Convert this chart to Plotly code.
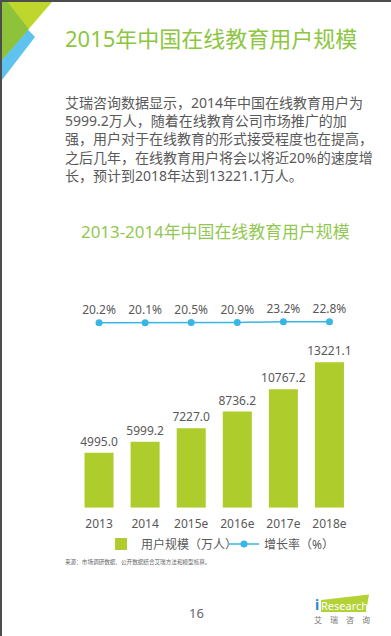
import plotly.graph_objects as go

W, H = 391, 636

# ---- data ----
categories = ["2013", "2014", "2015e", "2016e", "2017e", "2018e"]
users = [4995.0, 5999.2, 7227.0, 8736.2, 10767.2, 13221.1]
growth = [20.2, 20.1, 20.5, 20.9, 23.2, 22.8]

title_text = "2015年中国在线教育用户规模"
chart_title = "2013-2014年中国在线教育用户规模"
paragraph = [
    "艾瑞咨询数据显示，2014年中国在线教育用户为",
    "5999.2万人，随着在线教育公司市场推广的加",
    "强，用户对于在线教育的形式接受程度也在提高，",
    "之后几年，在线教育用户将会以将近20%的速度增",
    "长，预计到2018年达到13221.1万人。",
]
source_text = "来源：市场调研数据、公开数据结合艾瑞方法和模型核算。"
bar_name = "用户规模（万人）"
line_name = "增长率（%）"
page_no = "16"

FONT = "Noto Sans, Noto Sans CJK SC, sans-serif"
GRAY = "#595959"
BAR_COLOR = "#aecd2d"
LINE_COLOR = "#38b6e6"
TITLE_GREEN = "#8dc641"


def px(x):
    return x / W


def py(y):
    return 1 - y / H


def path(points):
    s = "M " + " L ".join(f"{px(x):.5f},{py(y):.5f}" for x, y in points) + " Z"
    return s


fig = go.Figure()

fig.add_trace(go.Bar(
    x=categories, y=users, name=bar_name,
    marker=dict(color=BAR_COLOR, line=dict(width=0)),
    text=[f"{v:.1f}" for v in users], textposition="outside",
    constraintext="none",
    textfont=dict(size=12, color=GRAY, family=FONT),
    cliponaxis=False, hoverinfo="skip",
))
fig.add_trace(go.Scatter(
    x=categories, y=growth, name=line_name, yaxis="y2",
    mode="lines+markers+text",
    line=dict(color=LINE_COLOR, width=1.5),
    marker=dict(color=LINE_COLOR, size=7),
    text=[f"{v:.1f}%" for v in growth], textposition="top center",
    textfont=dict(size=12, color=GRAY, family=FONT),
    cliponaxis=False, hoverinfo="skip",
))

shapes = []
# frame bars
shapes.append(dict(type="rect", xref="paper", yref="paper", x0=0, x1=1,
                   y0=py(2), y1=1, fillcolor="#4d4d4d", line=dict(width=0), layer="above"))
shapes.append(dict(type="rect", xref="paper", yref="paper", x0=0, x1=px(2),
                   y0=0, y1=1, fillcolor="#4d4d4d", line=dict(width=0), layer="above"))
# corner decoration
shapes.append(dict(type="path", xref="paper", yref="paper",
                   path=path([(2, 2), (35, 37), (2, 80)]),
                   fillcolor="#5ec3ef", line=dict(width=0)))
shapes.append(dict(type="path", xref="paper", yref="paper",
                   path=path([(2, 2), (52, 2), (2, 60)]),
                   fillcolor="#bfd62d", line=dict(width=0)))
shapes.append(dict(type="path", xref="paper", yref="paper",
                   path=path([(2, 2), (7.5, 2), (28.7, 29), (2, 60)]),
                   fillcolor="#8dc23a", line=dict(width=0)))
# logo
shapes.append(dict(type="path", xref="paper", yref="paper",
                   path=path([(321, 600), (369, 594.5), (366, 612), (321, 612)]),
                   fillcolor="#b3d235", line=dict(width=0)))

annotations = []
annotations.append(dict(text=title_text, x=px(63), y=py(38), xref="paper", yref="paper",
                        xanchor="left", yanchor="middle", showarrow=False,
                        font=dict(size=22, color=TITLE_GREEN, family=FONT)))
annotations.append(dict(text="<br>".join(paragraph), x=px(63), y=py(138.5),
                        xref="paper", yref="paper", align="left",
                        xanchor="left", yanchor="middle", showarrow=False,
                        font=dict(size=14, color=GRAY, family=FONT)))
annotations.append(dict(text=chart_title, x=px(215), y=py(232), xref="paper", yref="paper",
                        xanchor="center", yanchor="middle", showarrow=False,
                        font=dict(size=16.9, color="#92c852", family=FONT)))
annotations.append(dict(text=source_text, x=px(63), y=py(562), xref="paper", yref="paper",
                        xanchor="left", yanchor="middle", showarrow=False,
                        font=dict(size=5.6, color="#666666", family=FONT)))
annotations.append(dict(text=page_no, x=px(196), y=py(613), xref="paper", yref="paper",
                        xanchor="center", yanchor="middle", showarrow=False,
                        font=dict(size=13, color="#666666", family=FONT)))
annotations.append(dict(text="Research", x=px(344), y=py(605.5), xref="paper", yref="paper",
                        xanchor="center", yanchor="middle", showarrow=False,
                        font=dict(size=11, color="white", family=FONT)))
annotations.append(dict(text="<b>i</b>", x=px(317), y=py(604), xref="paper", yref="paper",
                        xanchor="center", yanchor="middle", showarrow=False,
                        font=dict(size=14, color="#1e88c8", family=FONT)))
annotations.append(dict(text="艾　瑞　咨　询", x=px(342), y=py(619), xref="paper", yref="paper",
                        xanchor="center", yanchor="middle", showarrow=False,
                        font=dict(size=8, color="#777777", family=FONT)))

fig.update_layout(
    width=W, height=H,
    margin=dict(l=0, r=0, t=0, b=0, pad=0),
    paper_bgcolor="white", plot_bgcolor="white",
    font=dict(family=FONT, color=GRAY),
    bargap=0.37,
    showlegend=True,
    legend=dict(orientation="h", x=px(101), y=py(544), xanchor="left", yanchor="middle",
                font=dict(size=12, color=GRAY, family=FONT),
                bgcolor="rgba(0,0,0,0)", borderwidth=0,
                entrywidth=78, entrywidthmode="pixels"),
    xaxis=dict(domain=[px(76), px(352.5)], type="category",
               showline=False, showgrid=False, zeroline=False,
               ticks="outside", ticklen=5, tickcolor="rgba(0,0,0,0)",
               tickfont=dict(size=12, color=GRAY, family=FONT)),
    yaxis=dict(domain=[py(507.7), py(340)], range=[0, 15245],
               visible=False, showgrid=False, zeroline=False),
    yaxis2=dict(domain=[py(329.4), py(309.4)], range=[0, 60], anchor="x",
                visible=False, showgrid=False, zeroline=False),
    shapes=shapes,
    annotations=annotations,
    hovermode=False,
)

fig.write_html("out.html", config={"displayModeBar": False},
               post_script="document.body.style.margin='0';document.body.style.overflow='hidden';")
